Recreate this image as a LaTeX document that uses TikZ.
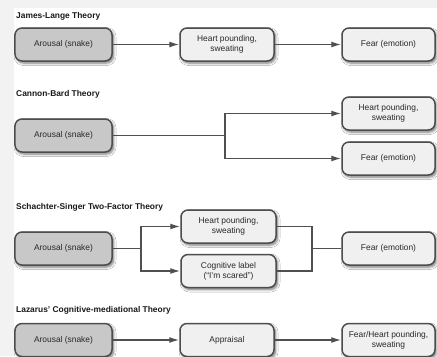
\documentclass[tikz,border=0pt]{standalone}
\usepackage{fontspec}
\setmainfont{Liberation Sans}
\usetikzlibrary{arrows.meta,shadows.blur}
\definecolor{bgout}{RGB}{242,242,242}
\definecolor{edge}{RGB}{77,77,77}
\definecolor{darkfill}{RGB}{200,200,200}
\definecolor{lightfill}{RGB}{240,240,240}
\definecolor{txt}{RGB}{40,40,40}
\definecolor{ln}{RGB}{80,80,80}
\tikzset{
  boxbase/.style={draw=edge, line width=1.5bp, rounded corners=7bp, minimum height=33bp,
    inner sep=1bp, align=center, text=txt, font=\fontsize{8.4bp}{10bp}\selectfont,
    blur shadow={shadow xshift=1.5bp, shadow yshift=-2bp, shadow blur steps=6, shadow blur radius=2.5bp, shadow opacity=55}},
  darkbox/.style={boxbase, fill=darkfill, minimum width=97bp},
  midbox/.style={boxbase, fill=lightfill, minimum width=94bp},
  rightbox/.style={boxbase, fill=lightfill, minimum width=93bp},
  ttl/.style={anchor=west, inner sep=0pt, text=black!90, font=\fontsize{8.4bp}{10bp}\selectfont\bfseries},
  conn/.style={draw=ln, line width=1.4bp},
  arr/.style={conn, -{Latex[length=10bp,width=6bp]}}
}
\begin{document}
\begin{tikzpicture}[x=1bp,y=-1bp]
\useasboundingbox (0,0) rectangle (437,356);
\fill[bgout] (0,0) rectangle (437,356);
\fill[white] (14,8) rectangle (437,356);
\begin{scope}
\clip (0,0) rectangle (437,356);
% James-Lange
\node[ttl] (t1) at (16,16) {James-Lange Theory};
\node[darkbox] (a1) at (63.5,44.5) {Arousal (snake)};
\node[midbox] (h1) at (227,44.5) {Heart pounding,\\sweating};
\node[rightbox] (f1) at (388.5,44.5) {Fear (emotion)};
\draw[arr] (a1) -- (h1);
\draw[arr] (h1) -- (f1);
% Cannon-Bard
\node[ttl] (t2) at (16,94) {Cannon-Bard Theory};
\node[darkbox] (a2) at (63.5,135.5) {Arousal (snake)};
\node[rightbox] (h2) at (388.5,113.5) {Heart pounding,\\sweating};
\node[rightbox] (f2) at (388.5,158.5) {Fear (emotion)};
\coordinate (j2) at (225,135.5);
\draw[conn] (a2.east) -- (j2);
\draw[arr] (j2) |- (h2.west);
\draw[arr] (j2) |- (f2.west);
% Schachter-Singer
\node[ttl] (t3) at (16,207) {Schachter-Singer Two-Factor Theory};
\node[darkbox] (a3) at (63.5,248.5) {Arousal (snake)};
\node[midbox, minimum width=95bp] (h3) at (228.5,226.5) {Heart pounding,\\sweating};
\node[midbox, minimum width=95bp] (c3) at (228.5,271) {Cognitive label\\(``I'm scared'')};
\node[rightbox] (f3) at (388.5,248.5) {Fear (emotion)};
\coordinate (j3) at (141,248.5);
\coordinate (k3) at (312,248.5);
\draw[conn] (a3.east) -- (j3);
\draw[arr] (j3) |- (h3.west);
\draw[arr] (j3) |- (c3.west);
\draw[conn] (h3.east) -| (k3);
\draw[conn] (c3.east) -| (k3);
\draw[conn] (k3) -- (f3.west);
% Lazarus
\node[ttl] (t4) at (16,310) {Lazarus' Cognitive-mediational Theory};
\node[darkbox] (a4) at (63.5,340) {Arousal (snake)};
\node[midbox] (p4) at (227,340) {Appraisal};
\node[rightbox] (f4) at (388.5,340) {Fear/Heart pounding,\\sweating};
\draw[arr] (a4) -- (p4);
\draw[arr] (p4) -- (f4);
\end{scope}
\end{tikzpicture}
\end{document}
